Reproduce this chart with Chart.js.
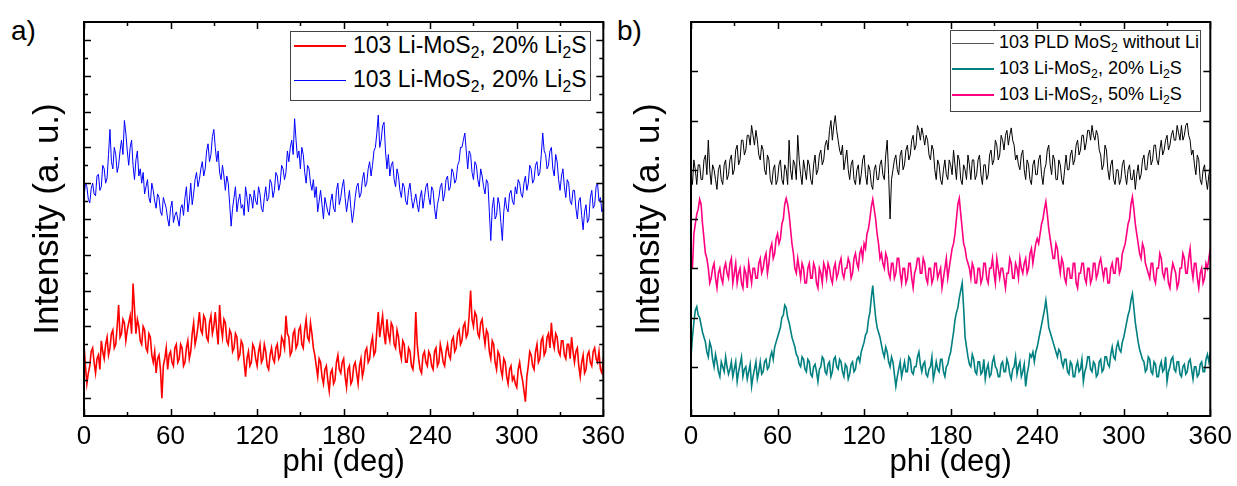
<!DOCTYPE html>
<html>
<head>
<meta charset="utf-8">
<script src="https://cdn.jsdelivr.net/npm/chart.js@4.4.1/dist/chart.umd.min.js"></script>
<style>
  body { margin: 0; background: #fff; width: 1237px; height: 486px; position: relative; overflow: hidden;
         font-family: "Liberation Sans", Arial, sans-serif; color: #000; }
  canvas { position: absolute; top: 0; }
  .panel-label { position: absolute; font-size: 28px; line-height: 1; }
  .legend { position: absolute; box-sizing: border-box; border: 1px solid #444; background: #fff; }
  .legend .row { position: absolute; left: 0; right: 0; height: 0; }
  .legend .swatch { position: absolute; }
  .legend .txt { position: absolute; top: 0; transform: translateY(-52%); white-space: nowrap; line-height: 1.15; }
  sub { font-size: 68%; vertical-align: baseline; position: relative; top: 0.32em; }
</style>
</head>
<body>
<div class="panel-label" style="left:11px; top:17px;">a)</div>
<div class="panel-label" style="left:617px; top:17px;">b)</div>
<canvas id="chartA" width="630" height="486" style="left:0px;"></canvas>
<canvas id="chartB" width="612" height="486" style="left:625px;"></canvas>
<div id="legendA" class="legend" style="left:290px; top:31px; width:301px; height:70px;"></div>
<div id="legendB" class="legend" style="left:950px; top:30px; width:251px; height:82px;"></div>
<script>
var FONT = '"Liberation Sans", Arial, sans-serif';

// phi positions (deg), one per degree
var phi = [
  0,1,2,3,4,5,6,7,8,9,10,11,12,13,14,15,16,17,18,19,
  20,21,22,23,24,25,26,27,28,29,30,31,32,33,34,35,36,37,38,39,
  40,41,42,43,44,45,46,47,48,49,50,51,52,53,54,55,56,57,58,59,
  60,61,62,63,64,65,66,67,68,69,70,71,72,73,74,75,76,77,78,79,
  80,81,82,83,84,85,86,87,88,89,90,91,92,93,94,95,96,97,98,99,
  100,101,102,103,104,105,106,107,108,109,110,111,112,113,114,115,116,117,118,119,
  120,121,122,123,124,125,126,127,128,129,130,131,132,133,134,135,136,137,138,139,
  140,141,142,143,144,145,146,147,148,149,150,151,152,153,154,155,156,157,158,159,
  160,161,162,163,164,165,166,167,168,169,170,171,172,173,174,175,176,177,178,179,
  180,181,182,183,184,185,186,187,188,189,190,191,192,193,194,195,196,197,198,199,
  200,201,202,203,204,205,206,207,208,209,210,211,212,213,214,215,216,217,218,219,
  220,221,222,223,224,225,226,227,228,229,230,231,232,233,234,235,236,237,238,239,
  240,241,242,243,244,245,246,247,248,249,250,251,252,253,254,255,256,257,258,259,
  260,261,262,263,264,265,266,267,268,269,270,271,272,273,274,275,276,277,278,279,
  280,281,282,283,284,285,286,287,288,289,290,291,292,293,294,295,296,297,298,299,
  300,301,302,303,304,305,306,307,308,309,310,311,312,313,314,315,316,317,318,319,
  320,321,322,323,324,325,326,327,328,329,330,331,332,333,334,335,336,337,338,339,
  340,341,342,343,344,345,346,347,348,349,350,351,352,353,354,355,356,357,358,359,
  360
];

// panel a) (a.u., stacking offset included)
var blue20 = [
  560,600,590,555,545,585,600,570,565,620,
  625,580,590,650,640,600,615,680,750,660,
  640,700,680,630,650,690,720,680,775,740,
  690,650,700,720,650,610,665,690,620,640,
  600,630,570,590,610,560,545,600,580,550,
  530,570,560,520,510,560,545,530,500,480,
  530,550,490,510,520,500,480,530,540,510,
  560,590,520,550,600,540,570,610,630,590,
  610,640,660,620,640,690,710,660,680,730,
  750,700,660,690,630,610,650,620,580,620,
  600,540,480,530,560,590,520,550,570,530,
  540,510,590,560,520,570,560,530,580,550,
  540,590,570,530,520,560,590,550,560,610,
  600,560,580,630,620,580,600,650,640,610,
  630,690,660,700,720,680,780,720,670,690,
  640,700,680,630,600,650,640,600,580,610,
  560,590,520,550,580,540,500,560,540,520,
  510,550,570,530,520,580,600,540,560,590,
  610,560,520,550,580,530,490,520,560,590,
  600,560,570,610,630,590,600,640,660,620,
  650,690,700,740,790,700,720,760,770,690,
  640,680,620,650,660,610,590,640,620,580,
  560,600,590,550,540,580,600,560,530,550,
  570,540,520,560,580,530,560,590,600,560,
  540,590,580,530,500,540,560,590,600,550,
  570,610,620,580,590,640,630,600,610,650,
  660,700,700,720,740,690,640,690,680,630,
  610,660,650,610,590,640,620,590,570,610,
  600,520,440,530,560,500,510,560,540,490,
  440,520,560,530,520,570,580,550,540,590,
  570,610,600,570,560,600,620,580,600,650,
  640,600,610,650,660,620,630,680,740,690,
  680,640,650,690,700,640,620,680,660,610,
  580,620,640,590,560,610,600,550,540,580,
  580,530,500,550,560,510,470,520,540,490,
  500,560,580,530,540,590,600,550,560,520,
  530
];
var red20 = [
  150,90,40,70,90,130,140,100,70,110,
  120,80,160,130,110,150,170,120,140,180,
  190,140,150,200,260,170,180,220,210,160,
  190,210,230,180,320,250,180,220,200,160,
  150,200,190,140,130,180,170,120,100,130,
  70,110,120,80,0,90,110,140,80,120,
  130,100,90,140,150,100,110,150,140,90,
  100,140,160,110,130,180,210,150,170,200,
  240,190,180,230,220,170,160,210,230,180,
  200,240,190,150,260,200,170,220,210,160,
  150,190,180,130,140,180,170,110,120,160,
  150,100,60,110,130,90,100,150,140,110,
  90,130,150,100,110,150,130,90,80,120,
  140,110,100,140,150,110,120,170,160,140,
  230,180,170,120,130,180,190,140,150,190,
  200,150,140,190,220,170,160,210,180,140,
  120,90,60,110,100,60,40,80,90,50,
  20,70,80,40,50,100,120,80,70,100,
  110,60,30,80,90,40,50,90,100,70,
  40,90,110,60,80,130,140,100,110,150,
  170,120,130,190,240,170,200,230,180,150,
  220,180,160,210,200,150,140,190,170,130,
  110,160,150,100,100,140,130,90,80,120,
  240,150,110,80,70,120,130,100,90,130,
  120,90,80,130,140,90,100,150,130,100,
  90,130,150,120,110,160,170,130,140,180,
  190,150,160,200,210,170,180,230,300,220,
  200,240,230,180,170,210,220,180,150,190,
  180,130,110,160,150,100,80,130,120,80,
  60,110,100,60,40,80,90,50,60,40,
  30,80,100,70,50,20,-10,60,90,130,
  120,90,80,130,150,100,110,160,170,120,
  130,170,180,140,210,160,140,180,170,130,
  120,160,160,120,110,150,150,110,170,130,
  100,130,140,90,60,100,120,70,80,120,
  130,100,90,130,140,110,100,130,80,70,
  110
];

// panel b)
var pldNoLi = [
  490,470,520,500,470,510,510,480,480,520,
  530,490,560,500,470,510,500,480,460,500,
  510,480,470,510,520,480,490,520,530,490,
  500,540,550,510,520,560,560,530,540,570,
  570,550,590,570,550,580,560,530,520,550,
  540,500,490,530,520,480,470,500,510,470,
  480,510,520,480,470,510,500,470,560,500,
  480,520,510,480,570,520,490,470,520,500,
  480,520,510,480,470,510,530,490,500,530,
  540,510,520,550,560,540,580,600,560,590,
  610,580,560,540,530,550,500,520,540,500,
  480,510,520,480,470,500,510,470,490,520,
  530,490,470,510,500,470,460,500,510,480,
  480,510,520,490,480,530,560,490,400,480,
  500,520,530,500,490,530,540,500,510,540,
  550,520,530,560,570,540,550,590,580,560,
  585,570,550,570,560,530,520,550,540,500,
  480,520,510,480,470,500,520,490,480,520,
  510,490,540,510,480,530,520,480,470,510,
  500,480,530,510,480,520,520,480,490,520,
  530,490,470,510,510,480,490,530,540,510,
  520,560,550,520,530,570,560,540,570,580,
  550,570,585,560,550,520,530,510,500,530,
  540,500,480,520,510,480,470,510,520,490,
  490,520,530,490,470,500,510,540,550,510,
  490,530,520,480,480,520,510,480,470,500,
  530,500,500,530,540,510,520,550,560,530,
  540,570,570,540,555,580,580,560,590,570,
  560,580,570,540,530,500,510,550,540,500,
  480,510,520,480,470,500,500,470,480,510,
  520,490,470,500,510,480,480,500,460,490,
  510,480,490,520,530,500,500,530,540,510,
  520,550,550,520,510,540,560,530,540,560,
  570,540,550,570,580,560,560,590,575,560,
  590,560,570,590,595,570,560,530,540,510,
  490,530,520,480,470,500,510,480,460,490,
  505
];
var li20 = [
  120,160,190,215,222,205,200,185,170,160,
  150,130,120,150,140,115,100,125,110,90,
  80,110,100,90,120,100,85,95,110,80,
  95,110,70,90,105,120,80,95,100,75,
  90,105,60,80,95,110,75,90,110,85,
  90,110,115,95,100,120,130,115,140,150,
  160,170,180,200,205,225,220,200,190,175,
  160,150,140,125,120,105,100,120,115,95,
  90,115,110,85,80,100,105,90,70,95,
  100,120,115,90,85,105,110,80,90,115,
  120,100,95,115,110,90,80,105,100,75,
  85,105,110,90,95,115,120,110,130,140,
  150,165,170,195,210,240,265,230,200,180,
  170,160,145,130,120,140,130,110,100,120,
  110,85,60,80,95,110,80,95,110,90,
  90,120,115,90,85,100,100,120,130,105,
  90,105,110,85,80,95,100,120,75,90,
  110,95,90,115,115,90,80,100,105,120,
  130,150,170,195,210,220,240,255,270,220,
  160,140,120,105,100,125,115,90,85,110,
  110,85,90,115,75,95,105,80,85,110,
  120,100,95,80,80,105,110,90,90,115,
  105,85,75,95,100,120,85,100,110,80,
  90,105,60,85,100,125,120,130,110,130,
  140,155,170,185,200,215,235,210,180,170,
  160,150,140,130,120,135,130,110,100,115,
  115,90,85,110,105,80,80,100,110,90,
  95,115,70,90,100,120,120,95,90,110,
  105,80,85,110,115,90,95,120,120,105,
  100,125,140,120,115,140,150,135,130,150,
  160,175,190,205,215,235,248,220,190,170,
  150,135,125,115,110,90,95,120,115,90,
  85,110,105,80,80,100,110,90,95,120,
  70,90,100,115,120,95,90,110,110,85,
  80,100,105,85,90,110,115,95,75,100,
  100,80,85,105,110,90,90,115,125,110,
  130
];
var li50 = [
  330,300,370,390,410,420,440,430,390,360,
  330,320,300,270,280,300,310,280,260,290,
  300,280,270,300,310,290,280,310,320,270,
  290,310,270,290,300,270,260,300,290,260,
  310,290,270,300,300,280,280,310,320,290,
  300,320,330,290,310,340,350,320,330,360,
  370,350,360,390,400,430,442,430,410,380,
  350,330,300,290,320,300,280,310,300,270,
  270,300,310,280,280,310,300,270,260,300,
  290,270,310,300,280,310,300,280,270,300,
  310,280,290,310,320,290,280,300,300,320,
  310,280,290,320,330,310,300,330,340,320,
  350,340,370,380,400,425,440,420,400,370,
  350,320,330,310,300,330,320,290,280,310,
  310,280,290,320,320,290,270,300,300,270,
  280,310,310,280,260,290,300,320,320,290,
  290,320,310,280,270,300,300,270,280,310,
  310,280,290,300,260,280,300,320,280,300,
  320,340,350,370,400,430,442,410,380,350,
  340,320,310,300,280,310,300,270,270,300,
  300,270,280,310,310,280,270,300,300,320,
  290,270,320,300,280,300,300,280,260,290,
  290,320,310,280,280,310,300,280,320,300,
  290,310,320,290,300,330,340,310,330,350,
  360,350,370,390,400,420,435,410,380,360,
  340,320,320,350,340,310,290,320,310,280,
  270,300,300,280,280,310,310,270,260,290,
  290,310,310,280,270,300,300,270,280,310,
  310,280,290,310,320,300,280,300,300,270,
  270,300,310,290,290,320,320,290,300,330,
  340,350,370,390,400,430,445,420,390,370,
  350,330,320,350,340,310,300,290,280,310,
  310,280,270,300,300,330,320,290,280,300,
  300,270,260,290,310,300,290,260,270,300,
  300,330,320,290,290,320,340,300,280,310,
  310,280,260,290,300,270,280,310,300,320,
  340
];

// axis ticks
var xTickValues = [0, 60, 120, 180, 240, 300, 360];
var xMinorTicks = [30, 90, 150, 210, 270, 330];
var leftMajorTicks = [0, 100, 200, 300, 400, 500, 600, 700, 800, 900, 1000];
var leftMinorTicks = [50, 150, 250, 350, 450, 550, 650, 750, 850, 950];
var rightMajorTicks = [100, 200, 300, 400, 500, 600, 700];

var legendA = [
  { label: '103 Li-MoS<sub>2</sub>, 20% Li<sub>2</sub>S', color: '#ff0000', width: 2 },
  { label: '103 Li-MoS<sub>2</sub>, 20% Li<sub>2</sub>S', color: '#0000ff', width: 1 }
];
var legendB = [
  { label: '103 PLD MoS<sub>2</sub> without Li', color: '#555555', width: 1 },
  { label: '103 Li-MoS<sub>2</sub>, 20% Li<sub>2</sub>S', color: '#008080', width: 2 },
  { label: '103 Li-MoS<sub>2</sub>, 50% Li<sub>2</sub>S', color: '#ff0080', width: 2 }
];

function toPoints(values) {
  return values.map(function (v, i) { return { x: phi[i], y: v }; });
}

// inward tick marks on all four sides plus the frame
var tickFrame = {
  id: 'tickFrame',
  afterDatasetsDraw: function (chart, args, opts) {
    var ctx = chart.ctx, a = chart.chartArea, x = chart.scales.x, y = chart.scales.y;
    ctx.save();
    ctx.strokeStyle = '#000';
    ctx.lineWidth = 1.5;
    ctx.beginPath();
    function xt(list, len) {
      list.forEach(function (v) {
        var px = Math.round(x.getPixelForValue(v)) + 0.5;
        ctx.moveTo(px, a.bottom); ctx.lineTo(px, a.bottom - len);
        ctx.moveTo(px, a.top); ctx.lineTo(px, a.top + len);
      });
    }
    function yt(list, len) {
      list.forEach(function (v) {
        var py = Math.round(y.getPixelForValue(v)) + 0.5;
        ctx.moveTo(a.left, py); ctx.lineTo(a.left + len, py);
        ctx.moveTo(a.right, py); ctx.lineTo(a.right - len, py);
      });
    }
    xt(opts.xMajor || [], 7);
    xt(opts.xMinor || [], 4);
    yt(opts.yMajor || [], 7);
    yt(opts.yMinor || [], 4);
    ctx.stroke();
    ctx.lineWidth = 2;
    ctx.strokeRect(a.left, a.top, a.right - a.left, a.bottom - a.top);
    ctx.restore();
  }
};

function makeChart(id, datasets, yMin, yMax, yWidth, yTitlePad, ticks) {
  return new Chart(document.getElementById(id), {
    type: 'line',
    data: { datasets: datasets },
    plugins: [tickFrame],
    options: {
      responsive: false,
      animation: false,
      layout: { padding: { left: 0, top: 22, right: 24, bottom: 0 } },
      elements: { point: { radius: 0 }, line: { tension: 0 } },
      plugins: { legend: { display: false }, tooltip: { enabled: false }, tickFrame: ticks },
      scales: {
        x: {
          type: 'linear', min: 0, max: 360,
          afterBuildTicks: function (s) { s.ticks = xTickValues.map(function (v) { return { value: v }; }); },
          afterFit: function (s) { s.height = 70; },
          grid: { display: false, drawTicks: false },
          border: { display: false },
          ticks: { color: '#000', font: { size: 26, family: FONT }, padding: 5, maxRotation: 0, autoSkip: false },
          title: { display: true, text: 'phi (deg)', color: '#000', font: { size: 31, family: FONT }, padding: { top: 0, bottom: 5 } }
        },
        y: {
          type: 'linear', min: yMin, max: yMax,
          afterFit: function (s) { s.width = yWidth; },
          grid: { display: false, drawTicks: false },
          border: { display: false },
          ticks: { display: false },
          title: { display: true, text: 'Intensity (a. u.)', color: '#000', font: { size: 35, family: FONT }, padding: { top: yTitlePad, bottom: 0 } }
        }
      }
    }
  });
}

makeChart('chartA', [
  { data: toPoints(red20), borderColor: '#ff0000', borderWidth: 1.6 },
  { data: toPoints(blue20), borderColor: '#0000ff', borderWidth: 1 }
], -50, 1050, 84, 27, { xMajor: xTickValues, xMinor: xMinorTicks, yMajor: leftMajorTicks, yMinor: leftMinorTicks });

makeChart('chartB', [
  { data: toPoints(pldNoLi), borderColor: '#000000', borderWidth: 1 },
  { data: toPoints(li20), borderColor: '#008080', borderWidth: 1.6 },
  { data: toPoints(li50), borderColor: '#ff0080', borderWidth: 1.6 }
], 0, 800, 66, 3, { xMajor: xTickValues, xMinor: xMinorTicks, yMajor: rightMajorTicks });

function buildLegend(id, items, rowY, swLeft, swLen, txtLeft, fontSize) {
  var box = document.getElementById(id);
  items.forEach(function (it, i) {
    var row = document.createElement('div');
    row.className = 'row';
    row.style.top = rowY[i] + 'px';
    row.innerHTML =
      '<span class="swatch" style="left:' + swLeft + 'px; width:' + swLen + 'px; top:' + (-it.width / 2) +
      'px; height:' + it.width + 'px; background:' + it.color + ';"></span>' +
      '<span class="txt" style="left:' + txtLeft + 'px; font-size:' + fontSize + 'px;">' + it.label + '</span>';
    box.appendChild(row);
  });
}
buildLegend('legendA', legendA, [14, 48], 3, 52, 62, 23);
buildLegend('legendB', legendB, [12, 38, 64], 1, 42, 48, 18);
</script>
</body>
</html>
